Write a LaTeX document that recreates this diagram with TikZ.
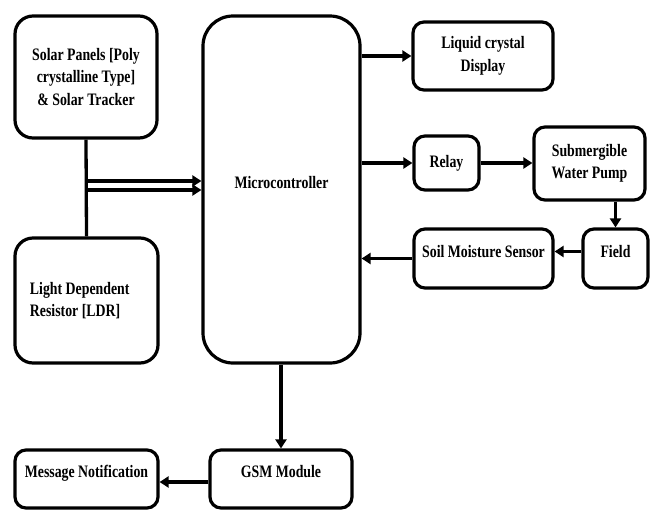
\documentclass[tikz,border=0pt]{standalone}
\usepackage{fontspec}
\setmainfont[FakeStretch=0.79]{Liberation Serif}
\usetikzlibrary{arrows.meta,calc}
\begin{document}
\begin{tikzpicture}[x=1pt,y=-1pt,
  box/.style={draw,line width=3.2pt,rounded corners=11pt,inner sep=0pt,align=center,
    font=\fontsize{17.5}{22.5}\selectfont\bfseries},
  up/.style={text depth=15pt},
  arr/.style={line width=3.3pt,-{Triangle[length=9pt,width=11pt]}},
  ln/.style={line width=3.3pt}]
\useasboundingbox (0,0) rectangle (651,512);
% boxes
\node[box,rounded corners=18pt,minimum width=142pt,minimum height=122pt] (solar) at (86,77)
  {Solar Panels [Poly\\crystalline Type]\\\& Solar Tracker};
\node[box,rounded corners=18pt,minimum width=143pt,minimum height=125pt,text width=113pt,
  inner xsep=15pt,align=flush left] (ldr) at (86.5,300.5)
  {Light Dependent\\Resistor [LDR]};
\node[box,up,rounded corners=30pt,minimum width=157pt,minimum height=347pt] (micro) at (281.5,189.5)
  {Microcontroller};
\node[box,minimum width=140pt,minimum height=68pt] (lcd) at (483,56)
  {Liquid crystal\\Display};
\node[box,minimum width=65pt,minimum height=54pt] (relay) at (446.5,163) {Relay};
\node[box,minimum width=111pt,minimum height=73pt] (pump) at (589.5,163.5)
  {Submergible\\Water Pump};
\node[box,up,minimum width=65pt,minimum height=59pt] (field) at (615.5,258.5) {Field};
\node[box,up,minimum width=139pt,minimum height=59pt] (soil) at (483.5,258.5) {Soil Moisture Sensor};
\node[box,up,minimum width=142pt,minimum height=58pt] (gsm) at (281,479) {GSM Module};
\node[box,up,minimum width=143pt,minimum height=58pt] (msg) at (86.5,479) {Message Notification};
% connectors
\draw[ln] (solar.south) -- (ldr.north);
\coordinate (j1) at (solar.south |- 0,181);
\coordinate (j2) at (solar.south |- 0,190);
\draw[arr] (j1) -- (j1 -| micro.west);
\draw[arr] (j2) -- (j2 -| micro.west);
\draw[arr] (micro.east |- lcd.west) -- (lcd.west);
\draw[arr] (micro.east |- relay.west) -- (relay.west);
\draw[arr] (relay.east) -- (relay.east -| pump.west);
\draw[arr] (pump.south -| field.north) -- (field.north);
\draw[arr] ([yshift=7pt]field.west) -- ([yshift=7pt]field.west -| soil.east);
\draw[arr] (soil.west) -- (soil.west -| micro.east);
\draw[arr] (micro.south -| gsm.north) -- (gsm.north);
\draw[arr] ([yshift=-3pt]gsm.west) -- ([yshift=-3pt]gsm.west -| msg.east);
\end{tikzpicture}
\end{document}
